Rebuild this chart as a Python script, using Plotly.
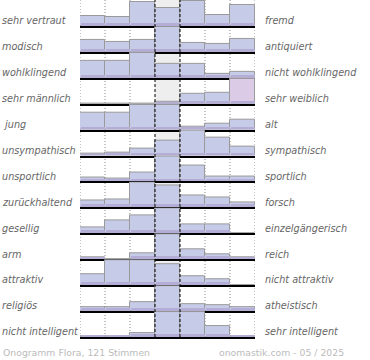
import plotly.graph_objects as go
from plotly.subplots import make_subplots

left_labels = ["sehr vertraut", "modisch", "wohlklingend", "sehr männlich", "\u00a0jung",
               "unsympathisch", "unsportlich", "zurückhaltend", "gesellig", "arm",
               "attraktiv", "religiös", "nicht intelligent"]
right_labels = ["fremd", "antiquiert", "nicht wohlklingend", "sehr weiblich", "alt",
                "sympathisch", "sportlich", "forsch", "einzelgängerisch", "reich",
                "nicht attraktiv", "atheistisch", "sehr intelligent"]

# relative vote shares per scale step (7 steps)
vertraut = [10, 9, 23, 17.5, 24, 11, 20.5]
modisch = [11.7, 9.7, 11.3, 24.3, 8.3, 7.7, 12.7]
wohlklingend = [17, 17, 25, 14.3, 13.7, 3.7, 5.7]
maennlich = [0, 0, 0, 2.5, 10, 11.3, 25.7]
jung = [16.3, 16.3, 24.3, 24.3, 3.3, 6.3, 9.3]
sympathisch = [1.5, 3, 7.3, 15.7, 25.7, 18.3, 9.3]
sportlich = [4.3, 3.3, 9, 25, 16.3, 5.3, 5.3]
zurueckhaltend = [7.3, 8.3, 25.7, 23.3, 12.3, 10.3, 5.3]
gesellig = [6.3, 13.3, 18.3, 25, 9.3, 9.3, 0]
arm = [2, 0, 5.7, 25, 10.3, 5.3, 2]
attraktiv = [10.3, 23.3, 23.3, 19.3, 8.3, 5.3, 0]
religioes = [3.3, 3.3, 8, 23.4, 7, 5.3, 3.3]
intelligent = [1, 1, 3.3, 22.7, 22.7, 10, 1]

rows = [vertraut, modisch, wohlklingend, maennlich, jung, sympathisch, sportlich,
        zurueckhaltend, gesellig, arm, attraktiv, religioes, intelligent]
steps = [0, 1, 2, 3, 4, 5, 6]
highlight = (3, 6)  # row, step drawn in pink

footer_left = "Onogramm Flora, 121 Stimmen"
footer_right = "onomastik.com - 05 / 2025"

n = len(rows)
fig = make_subplots(rows=n, cols=1, vertical_spacing=0)

for i, vals in enumerate(rows):
    colors = ["#c6cbe8"] * 7
    if highlight[0] == i:
        colors[highlight[1]] = "#dccbe6"
    m = max(vals)
    band = m * 0.1
    fig.add_trace(go.Bar(x=steps, y=vals, width=1, marker=dict(color=colors,
                         line=dict(color="#9a9a9a", width=1)), showlegend=False,
                         hoverinfo="skip"), row=i + 1, col=1)
    fig.add_trace(go.Bar(x=steps, y=[min(v, band) for v in vals], width=0.96,
                         marker=dict(color="#b4add6", line=dict(width=0)),
                         showlegend=False, hoverinfo="skip"), row=i + 1, col=1)
    fig.update_yaxes(range=[0, m * 1.05], visible=False, row=i + 1, col=1)
    fig.update_xaxes(range=[-0.5, 6.5], showticklabels=False, showgrid=False,
                     zeroline=False, ticks="", showline=True, linecolor="black",
                     linewidth=2, row=i + 1, col=1)
    yref = "y domain" if i == 0 else f"y{i + 1} domain"
    fig.add_annotation(text=f"<i>{left_labels[i]}</i>", xref="paper", yref=yref,
                       x=-80 / 175, y=0.2, xanchor="left", yanchor="middle",
                       showarrow=False, font=dict(size=9.7, color="#666666"))
    fig.add_annotation(text=f"<i>{right_labels[i]}</i>", xref="paper", yref=yref,
                       x=183 / 175, y=0.2, xanchor="left", yanchor="middle",
                       showarrow=False, font=dict(size=9.7, color="#666666"))

# centre column background
fig.add_shape(type="rect", xref="x", yref="paper", x0=2.5, x1=3.5, y0=0, y1=1,
              fillcolor="#eeeeee", line=dict(width=0), layer="below")
# column separators
for b in [-0.5, 0.5, 1.5, 4.5, 5.5, 6.5]:
    fig.add_shape(type="line", xref="x", yref="paper", x0=b, x1=b, y0=0, y1=1,
                  line=dict(color="#8a8a8a", width=1, dash="1px,2px"), layer="below")
for b in [2.5, 3.5]:
    fig.add_shape(type="line", xref="x", yref="paper", x0=b, x1=b, y0=0, y1=1,
                  line=dict(color="black", width=1, dash="3px,2px"), layer="above")

fig.add_annotation(text=footer_left, xref="paper", yref="paper", x=-79 / 175,
                   y=-15 / 337, xanchor="left", yanchor="middle", showarrow=False,
                   font=dict(size=9.3, color="#bbbbbb"))
fig.add_annotation(text=footer_right, xref="paper", yref="paper", x=266 / 175,
                   y=-15 / 337, xanchor="right", yanchor="middle", showarrow=False,
                   font=dict(size=9.3, color="#bbbbbb"))

fig.update_layout(width=370, height=360, margin=dict(l=80, r=115, t=0, b=23),
                  barmode="overlay", bargap=0, plot_bgcolor="rgba(0,0,0,0)",
                  paper_bgcolor="white", font=dict(family="DejaVu Sans"))
fig.write_html("out.html", config={"displayModeBar": False},
               post_script="document.body.style.margin='0';")
